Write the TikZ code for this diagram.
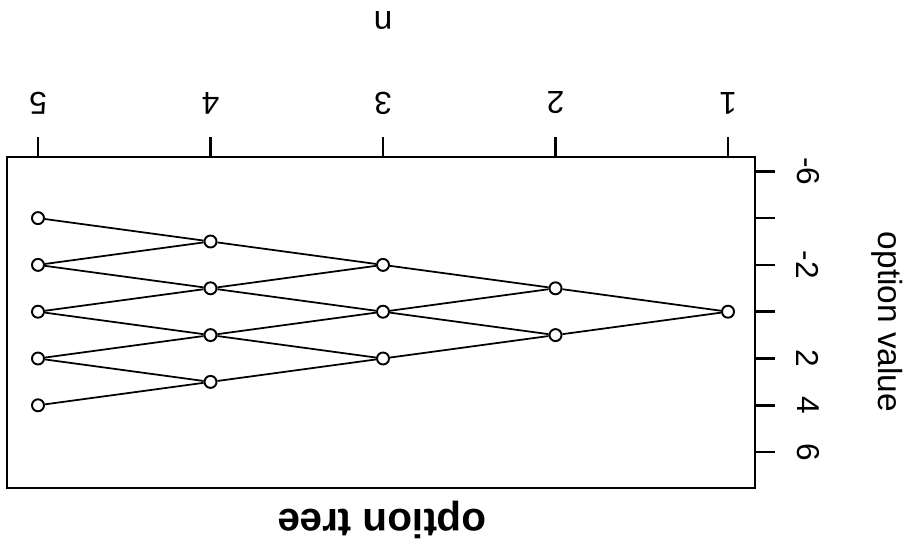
\documentclass[tikz,border=0pt]{standalone}
\usepackage{fontspec}
\setmainfont{Liberation Sans}
\usetikzlibrary{positioning, calc}

\begin{document}
\begin{tikzpicture}[
    x=0.01cm, y=-0.01cm,
    treept/.style={
        circle,
        draw,
        line width=0.55pt,
        minimum size=0.12cm,
        inner sep=0pt
    },
    treeline/.style={
        line width=0.5pt
    },
    frame/.style={
        line width=0.7pt
    },
    ticklabel/.style={
        font=\fontsize{9}{11}\selectfont,
        inner sep=0pt
    },
    axislabel/.style={
        font=\fontsize{9.5}{11}\selectfont,
        inner sep=0pt
    },
    titlelabel/.style={
        font=\fontsize{11.5}{13}\selectfont\bfseries,
        inner sep=0pt
    }
]
    \useasboundingbox (0,0) rectangle (910,549);

    % Plot frame
    \draw[frame] (7,157) rectangle (755,488);

    % n axis (upside down, along the top)
    \foreach \n in {1,...,5} {
        \coordinate (ntick-\n) at ({728-(\n-1)*172.5}, 157);
        \draw[frame] (ntick-\n) -- ++(0,-20);
        \node[ticklabel, rotate=180] (nlab-\n) at ({728-(\n-1)*172.5}, 103) {\n};
    }
    \node[axislabel, rotate=180] (nlabel) at (383,20) {n};

    % option value axis (on the right)
    \foreach \v in {-6,-4,...,6} {
        \coordinate (vtick-\v) at (755, {311.7+23.4*\v});
        \draw[frame] (vtick-\v) -- ++(20,0);
    }
    \foreach \v in {-6,-2,2,4,6} {
        \node[ticklabel, rotate=-90] (vlab-\v) at (808, {311.7+23.4*\v}) {\v};
    }
    \node[axislabel, rotate=-90] (vlabel) at (887,322) {option value};

    % Title
    \node[titlelabel, rotate=180] (title) at (382,520) {option tree};

    % Tree points
    \foreach \n in {1,...,5} {
        \pgfmathtruncatemacro{\kmax}{\n-1}
        \foreach \k in {0,...,\kmax} {
            \node[treept] (t-\n-\k) at ({728-(\n-1)*172.5}, {311.7+23.4*(2*\k-\n+1)}) {};
        }
    }

    % Branches: each point goes to value-1 and value+1
    \foreach \n in {1,...,4} {
        \pgfmathtruncatemacro{\kmax}{\n-1}
        \pgfmathtruncatemacro{\m}{\n+1}
        \foreach \k in {0,...,\kmax} {
            \pgfmathtruncatemacro{\j}{\k+1}
            \draw[treeline] (t-\n-\k) -- (t-\m-\k);
            \draw[treeline] (t-\n-\k) -- (t-\m-\j);
        }
    }

\end{tikzpicture}
\end{document}
